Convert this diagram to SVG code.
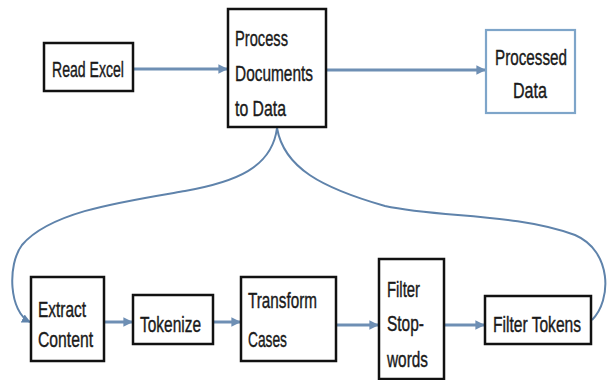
<svg xmlns="http://www.w3.org/2000/svg" width="611" height="380" viewBox="0 0 611 380">
<style>
.box{fill:#fff;stroke:#111;stroke-width:2.5}
.box2{fill:#fff;stroke:#7ea5c9;stroke-width:2.2}
.t{font-family:"Liberation Sans",Arial,sans-serif;font-size:22px;fill:#1a1a1a;stroke:#1a1a1a;stroke-width:0.4}
.c{fill:none;stroke:#6e8fb4;stroke-width:3}
.cv{fill:none;stroke:#5f83ab;stroke-width:2}
</style>
<defs>
<marker id="ah" viewBox="0 0 10 10" refX="9" refY="5" markerWidth="3.2" markerHeight="3.2" orient="auto" markerUnits="strokeWidth">
<path d="M0,0 L10,5 L0,10 z" fill="#6e8fb4"/>
</marker>
<marker id="ah2" viewBox="0 0 10 10" refX="9" refY="5" markerWidth="4.5" markerHeight="4.5" orient="auto" markerUnits="strokeWidth">
<path d="M0,0 L10,5 L0,10 z" fill="#5f83ab"/>
</marker>
</defs>
<rect width="611" height="380" fill="#fff"/>
<g id="connectors">
<line class="c" x1="134" y1="69" x2="227" y2="69" marker-end="url(#ah)"/>
<line class="c" x1="327" y1="70" x2="485" y2="70" marker-end="url(#ah)"/>
<line class="c" x1="105" y1="322" x2="132" y2="322" marker-end="url(#ah)"/>
<line class="c" x1="214" y1="322" x2="240" y2="322" marker-end="url(#ah)"/>
<line class="c" x1="337" y1="325" x2="378" y2="325" marker-end="url(#ah)"/>
<line class="c" x1="445" y1="325" x2="484" y2="325" marker-end="url(#ah)"/>
<path class="cv" d="M277,128 C272,168 235,182 185,191 C120,202 50,212 22,245 C7,265 9,312 30,322" marker-end="url(#ah2)"/>
<path class="cv" d="M277,128 C284,168 322,188 385,206 C440,218 515,213 575,235 C612,251 612,300 592,320"/>
</g>
<g id="read-excel">
<rect class="box" x="44" y="43" width="89" height="48"/>
<text class="t" x="52" y="77" textLength="72" lengthAdjust="spacingAndGlyphs">Read Excel</text>
</g>
<g id="process-documents">
<rect class="box" x="228" y="9" width="98" height="118"/>
<text class="t" x="235" y="46" textLength="53" lengthAdjust="spacingAndGlyphs">Process</text>
<text class="t" x="235" y="81" textLength="78" lengthAdjust="spacingAndGlyphs">Documents</text>
<text class="t" x="235" y="116" textLength="51" lengthAdjust="spacingAndGlyphs">to Data</text>
</g>
<g id="processed-data">
<rect class="box2" x="486" y="30" width="89" height="83"/>
<text class="t" x="495" y="65" textLength="72" lengthAdjust="spacingAndGlyphs">Processed</text>
<text class="t" x="513" y="98" textLength="34" lengthAdjust="spacingAndGlyphs">Data</text>
</g>
<g id="extract-content">
<rect class="box" x="31" y="277" width="73" height="84"/>
<text class="t" x="38" y="317" textLength="48" lengthAdjust="spacingAndGlyphs">Extract</text>
<text class="t" x="38" y="347" textLength="55" lengthAdjust="spacingAndGlyphs">Content</text>
</g>
<g id="tokenize">
<rect class="box" x="133" y="295" width="80" height="49"/>
<text class="t" x="140" y="332" textLength="61" lengthAdjust="spacingAndGlyphs">Tokenize</text>
</g>
<g id="transform-cases">
<rect class="box" x="241" y="277" width="95" height="84"/>
<text class="t" x="248" y="308" textLength="69" lengthAdjust="spacingAndGlyphs">Transform</text>
<text class="t" x="248" y="347" textLength="39" lengthAdjust="spacingAndGlyphs">Cases</text>
</g>
<g id="filter-stopwords">
<rect class="box" x="379" y="259" width="65" height="120"/>
<text class="t" x="387" y="297" textLength="33" lengthAdjust="spacingAndGlyphs">Filter</text>
<text class="t" x="387" y="331" textLength="37" lengthAdjust="spacingAndGlyphs">Stop-</text>
<text class="t" x="387" y="367" textLength="41" lengthAdjust="spacingAndGlyphs">words</text>
</g>
<g id="filter-tokens">
<rect class="box" x="485" y="296" width="106" height="48"/>
<text class="t" x="493" y="332" textLength="88" lengthAdjust="spacingAndGlyphs">Filter Tokens</text>
</g>
</svg>
